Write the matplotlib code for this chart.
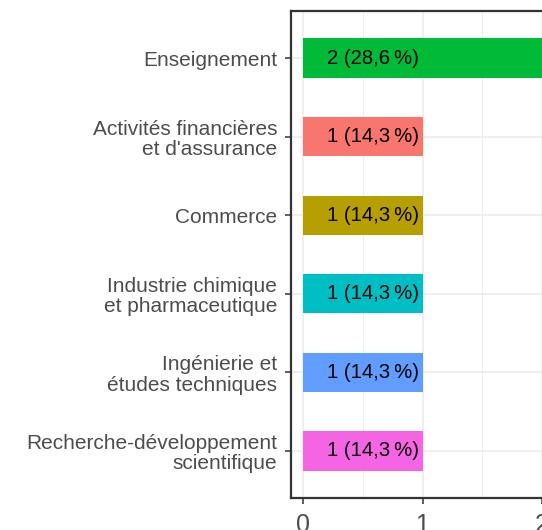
import matplotlib
matplotlib.use("Agg")
import matplotlib.pyplot as plt
from matplotlib.ticker import MultipleLocator

plt.rcParams["font.family"] = ["Liberation Sans", "DejaVu Sans"]

# ── données ──────────────────────────────────────────────────────────
categories = [
    "Enseignement",
    "Activités financières\net d'assurance",
    "Commerce",
    "Industrie chimique\net pharmaceutique",
    "Ingénierie et\nétudes techniques",
    "Recherche-développement\nscientifique",
]
counts = [2, 1, 1, 1, 1, 1]
labels = ["2 (28,6\u202f%)", "1 (14,3\u202f%)", "1 (14,3\u202f%)",
          "1 (14,3\u202f%)", "1 (14,3\u202f%)", "1 (14,3\u202f%)"]
colors = ["#00BA38", "#F8766D", "#B79F00", "#00BFC4", "#619CFF", "#F564E3"]

# ── figure ───────────────────────────────────────────────────────────
fig = plt.figure(figsize=(5.42, 5.30), dpi=100, facecolor="white")
# le panneau déborde à droite (image recadrée)
ax = fig.add_axes([291 / 542, 32 / 530, 263 / 542, 487 / 530])

n = len(categories)
ypos = list(range(n, 0, -1))

ax.barh(ypos, counts, height=0.5, color=colors, zorder=2)
for y, lab in zip(ypos, labels):
    ax.text(0.97, y, lab, ha="right", va="center", fontsize=14.6,
            color="black", zorder=3)

ax.set_xlim(-0.1, 2.1)
ax.set_ylim(0.4, n + 0.6)
ax.set_yticks(ypos)
ax.set_yticklabels(categories, linespacing=1.08)
ax.xaxis.set_major_locator(MultipleLocator(1))
ax.xaxis.set_minor_locator(MultipleLocator(0.5))

ax.grid(which="major", color="#EBEBEB", linewidth=1.1, zorder=0)
ax.grid(which="minor", axis="x", color="#EBEBEB", linewidth=0.6, zorder=0)
ax.set_axisbelow(True)

ax.tick_params(axis="y", which="major", length=4.5, width=1.1,
               color="#333333", labelcolor="#4D4D4D", labelsize=15, pad=5.5)
ax.tick_params(axis="x", which="major", length=4.5, width=1.1,
               color="#333333", labelcolor="#4D4D4D", labelsize=18, pad=6)
ax.tick_params(axis="x", which="minor", length=0)

for sp in ax.spines.values():
    sp.set_color("#333333")
    sp.set_linewidth(1.6)

fig.savefig("out.png", dpi=100, facecolor="white")
